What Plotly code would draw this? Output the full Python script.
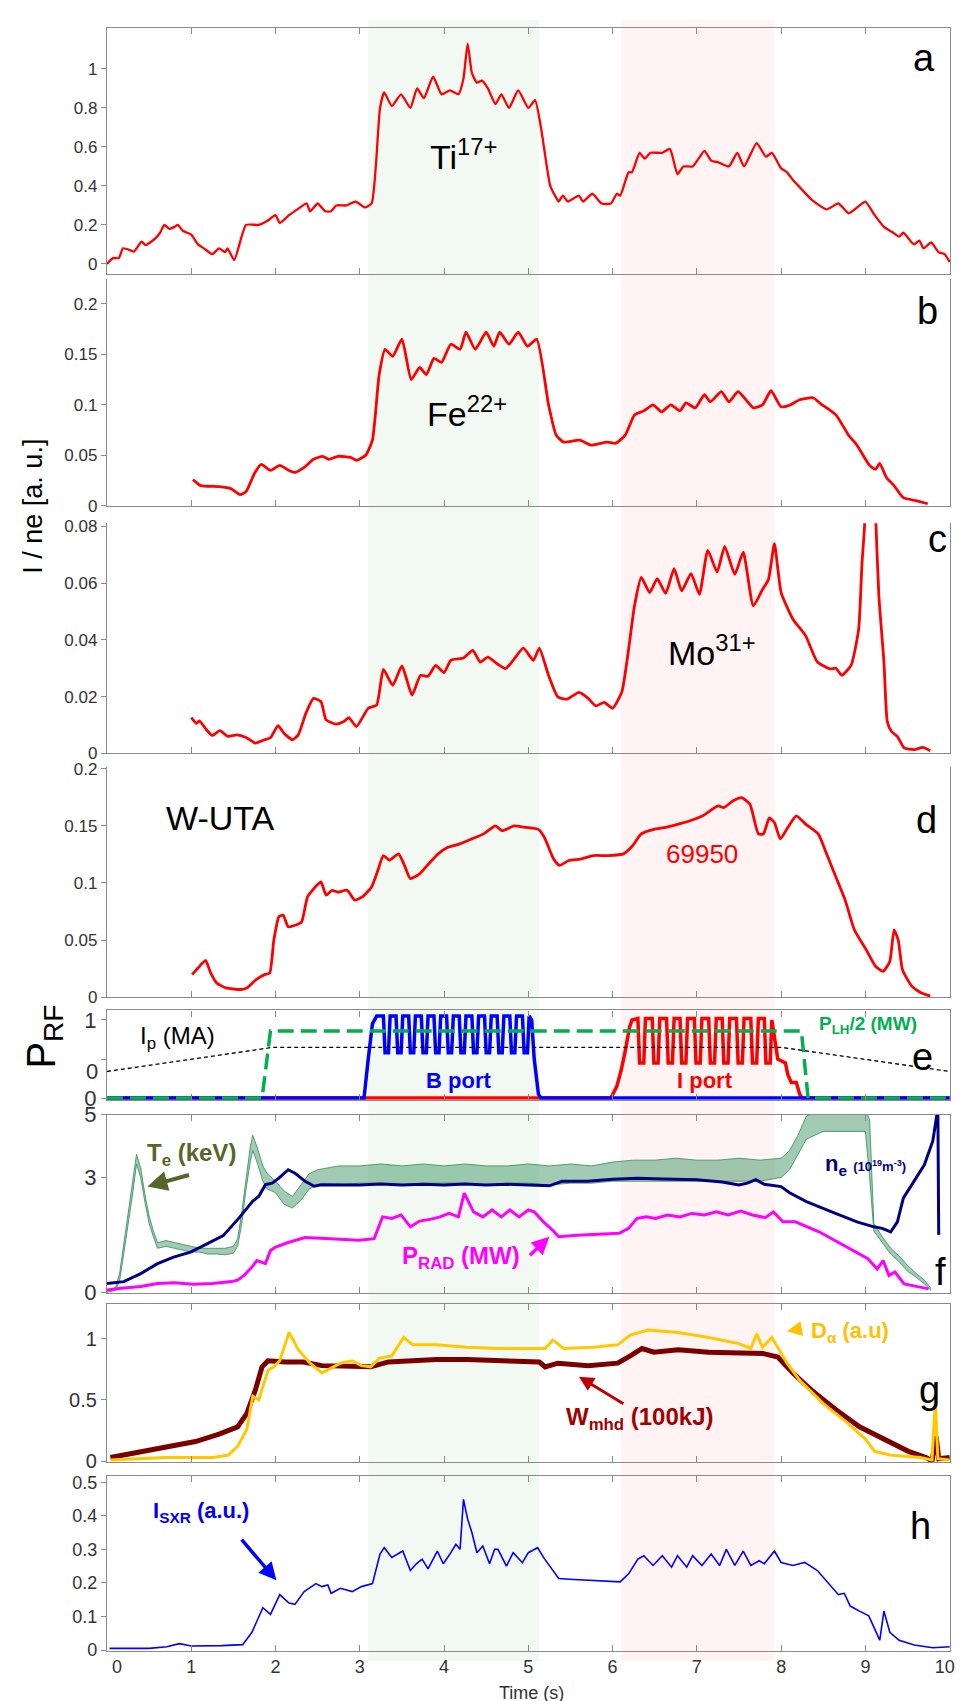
import plotly.graph_objects as go

# ---------------- data (time in s, value on each panel's axis) ----------------
ti17 = [(0.0,0.0),(0.07,0.03),(0.14,0.03),(0.19,0.08),(0.28,0.07),(0.32,0.063),(0.41,0.114),(0.46,0.097),
        (0.57,0.13),(0.63,0.16),(0.68,0.2),(0.74,0.18),(0.8,0.19),(0.84,0.2),(0.9,0.17),(1.0,0.15),(1.08,0.1),
        (1.15,0.08),(1.25,0.05),(1.33,0.08),(1.4,0.06),(1.43,0.08),(1.51,0.02),(1.65,0.2),(1.8,0.2),(1.9,0.22),
        (2.0,0.25),(2.05,0.21),(2.16,0.25),(2.26,0.28),(2.37,0.31),(2.41,0.27),(2.5,0.31),(2.59,0.27),(2.66,0.27),
        (2.72,0.3),(2.84,0.3),(2.95,0.32),(3.06,0.29),(3.14,0.31),(3.19,0.5),(3.24,0.8),(3.29,0.88),(3.38,0.81),
        (3.49,0.87),(3.6,0.8),(3.68,0.9),(3.76,0.85),(3.87,0.96),(3.97,0.87),(4.07,0.89),(4.17,0.87),(4.23,0.95),
        (4.28,1.13),(4.33,0.98),(4.39,0.93),(4.45,0.94),(4.52,0.9),(4.61,0.82),(4.68,0.87),(4.77,0.8),(4.88,0.89),
        (5.0,0.8),(5.08,0.84),(5.15,0.7),(5.26,0.4),(5.33,0.34),(5.36,0.32),(5.41,0.35),(5.47,0.32),(5.6,0.35),
        (5.65,0.32),(5.76,0.36),(5.87,0.31),(5.98,0.31),(6.05,0.36),(6.09,0.35),(6.19,0.47),(6.23,0.47),(6.32,0.57),
        (6.38,0.54),(6.45,0.57),(6.59,0.57),(6.68,0.59),(6.77,0.46),(6.84,0.5),(6.95,0.5),(7.02,0.54),(7.09,0.58),
        (7.17,0.53),(7.26,0.52),(7.38,0.5),(7.48,0.57),(7.56,0.5),(7.71,0.62),(7.82,0.55),(7.89,0.57),(8.0,0.49),
        (8.07,0.47),(8.14,0.43),(8.25,0.38),(8.36,0.33),(8.54,0.28),(8.68,0.31),(8.8,0.26),(8.93,0.3),(9.0,0.32),
        (9.11,0.25),(9.22,0.19),(9.33,0.16),(9.4,0.14),(9.45,0.16),(9.55,0.11),(9.58,0.1),(9.64,0.12),(9.69,0.08),
        (9.78,0.11),(9.87,0.06),(9.94,0.05),(10.0,0.01)]

fe22 = [(1.02,0.026),(1.11,0.02),(1.33,0.019),(1.47,0.017),(1.58,0.011),(1.65,0.014),(1.75,0.032),(1.83,0.041),
        (1.94,0.035),(2.05,0.04),(2.16,0.035),(2.23,0.033),(2.34,0.038),(2.45,0.046),(2.56,0.049),(2.63,0.046),
        (2.74,0.049),(2.89,0.048),(2.96,0.045),(3.07,0.05),(3.15,0.065),(3.23,0.13),(3.3,0.155),(3.39,0.148),
        (3.5,0.165),(3.61,0.125),(3.71,0.137),(3.79,0.13),(3.88,0.146),(3.97,0.142),(4.08,0.16),(4.19,0.155),
        (4.26,0.172),(4.37,0.155),(4.5,0.172),(4.59,0.158),(4.66,0.172),(4.77,0.16),(4.88,0.172),(4.99,0.158),
        (5.1,0.165),(5.24,0.1),(5.33,0.07),(5.42,0.063),(5.61,0.065),(5.75,0.06),(5.93,0.063),(6.04,0.062),
        (6.15,0.07),(6.26,0.09),(6.37,0.094),(6.48,0.1),(6.58,0.093),(6.69,0.1),(6.8,0.094),(6.87,0.102),
        (6.98,0.097),(7.09,0.11),(7.16,0.103),(7.29,0.113),(7.38,0.103),(7.49,0.113),(7.67,0.097),(7.78,0.1),
        (7.88,0.114),(8.0,0.098),(8.11,0.1),(8.22,0.105),(8.38,0.107),(8.47,0.101),(8.65,0.09),(8.8,0.07),
        (8.9,0.06),(9.05,0.04),(9.12,0.036),(9.17,0.042),(9.25,0.028),(9.34,0.02),(9.45,0.008),(9.6,0.005),
        (9.74,0.002)]

mo31 = [(1.0,0.0126),(1.06,0.0106),(1.1,0.0114),(1.18,0.0083),(1.25,0.0063),(1.34,0.008),(1.43,0.006),
        (1.54,0.0065),(1.65,0.0056),(1.76,0.0036),(1.87,0.0048),(1.94,0.0055),(2.03,0.0098),(2.1,0.0071),
        (2.2,0.0048),(2.27,0.0065),(2.36,0.0141),(2.45,0.0194),(2.54,0.0182),(2.6,0.0118),(2.72,0.0103),
        (2.81,0.0112),(2.87,0.0126),(2.96,0.0094),(3.1,0.0159),(3.2,0.017),(3.28,0.0296),(3.39,0.024),
        (3.5,0.0308),(3.62,0.0205),(3.72,0.0275),(3.81,0.0272),(3.9,0.031),(4.0,0.0285),(4.08,0.0328),
        (4.23,0.0336),(4.34,0.0363),(4.43,0.0322),(4.52,0.0339),(4.63,0.0316),(4.73,0.0299),(4.82,0.0328),
        (4.94,0.0371),(5.06,0.0328),(5.13,0.0371),(5.24,0.0275),(5.35,0.0199),(5.46,0.0191),(5.6,0.0215),
        (5.71,0.0194),(5.8,0.0167),(5.9,0.018),(6.0,0.0159),(6.11,0.0217),(6.18,0.0345),(6.26,0.052),
        (6.34,0.062),(6.44,0.0567),(6.53,0.0616),(6.63,0.0564),(6.73,0.0651),(6.82,0.0573),(6.93,0.0634),
        (7.03,0.0561),(7.13,0.0716),(7.24,0.0639),(7.33,0.073),(7.45,0.0631),(7.55,0.0709),(7.67,0.052),
        (7.78,0.0578),(7.85,0.0613),(7.92,0.0739),(8.0,0.0567),(8.14,0.0473),(8.29,0.0415),(8.43,0.0322),
        (8.58,0.0298),(8.65,0.03),(8.72,0.0275),(8.83,0.031),(8.92,0.0438),(8.96,0.0672),(8.99,0.0802),
        (9.05,0.15),(9.12,0.085),(9.16,0.0555),(9.22,0.0322),(9.26,0.0112),(9.31,0.0077),(9.38,0.0059),
        (9.46,0.0019),(9.58,0.0013),(9.68,0.0021),(9.77,0.0009)]

w_uta = [(1.01,0.0197),(1.08,0.0255),(1.17,0.0322),(1.23,0.0212),(1.3,0.0125),(1.41,0.0081),(1.59,0.0067),
         (1.66,0.0081),(1.77,0.0154),(1.87,0.0197),(1.93,0.021),(1.98,0.05),(2.04,0.0704),(2.09,0.0719),
         (2.15,0.0617),(2.24,0.0632),(2.31,0.066),(2.38,0.0878),(2.49,0.098),(2.54,0.101),(2.6,0.0893),
         (2.67,0.0936),(2.74,0.092),(2.85,0.0936),(2.94,0.085),(3.03,0.0878),(3.14,0.0965),(3.21,0.11),
         (3.28,0.124),(3.35,0.12),(3.46,0.1255),(3.53,0.1154),(3.6,0.1038),(3.71,0.108),(3.82,0.117),
         (3.93,0.1255),(4.04,0.131),(4.18,0.134),(4.33,0.1386),(4.47,0.143),(4.61,0.15),(4.69,0.1458),
         (4.83,0.15),(4.97,0.1487),(5.12,0.147),(5.19,0.14),(5.3,0.121),(5.37,0.1154),(5.48,0.1197),
         (5.62,0.121),(5.77,0.124),(5.95,0.124),(6.13,0.1255),(6.24,0.1328),(6.34,0.143),(6.49,0.147),
         (6.63,0.1487),(6.78,0.1516),(6.92,0.1545),(7.07,0.1588),(7.25,0.1675),(7.32,0.166),(7.43,0.172),
         (7.53,0.1748),(7.63,0.169),(7.73,0.143),(7.79,0.143),(7.86,0.157),(7.92,0.153),(7.99,0.1386),
         (8.08,0.1487),(8.18,0.1588),(8.29,0.1516),(8.44,0.143),(8.54,0.1255),(8.65,0.1052),(8.76,0.085),
         (8.87,0.0588),(9.01,0.0414),(9.12,0.027),(9.21,0.0226),(9.29,0.0313),(9.34,0.0588),(9.39,0.05),
         (9.44,0.024),(9.55,0.0096),(9.66,0.0038),(9.77,0.0009)]

# panel e: RF power (B port, I port), LH power / 2 and plasma current, as drawn on the P_RF axis
b_port = [(0.0,0.0),(3.05,0.0),(3.1,0.5),(3.15,0.95),(3.2,1.05),
          (3.28,1.05),(3.3,0.58),(3.34,0.58),(3.36,1.05),(3.43,1.05),(3.45,0.58),(3.49,0.58),(3.51,1.05),
          (3.58,1.05),(3.6,0.58),(3.64,0.58),(3.66,1.05),(3.73,1.05),(3.75,0.58),(3.79,0.58),(3.81,1.05),
          (3.88,1.05),(3.9,0.58),(3.94,0.58),(3.96,1.05),(4.03,1.05),(4.05,0.58),(4.09,0.58),(4.11,1.05),
          (4.18,1.05),(4.2,0.58),(4.24,0.58),(4.26,1.05),(4.33,1.05),(4.35,0.58),(4.39,0.58),(4.41,1.05),
          (4.48,1.05),(4.5,0.58),(4.54,0.58),(4.56,1.05),(4.63,1.05),(4.65,0.58),(4.69,0.58),(4.71,1.05),
          (4.78,1.05),(4.8,0.58),(4.84,0.58),(4.86,1.05),(4.93,1.05),(4.95,0.58),(4.99,0.58),(5.01,1.05),
          (5.04,1.0),(5.07,0.5),(5.12,0.05),(5.15,0.0),(10.0,0.0)]
i_port = [(0.0,0.0),(5.98,0.0),(6.05,0.15),(6.1,0.35),(6.15,0.6),(6.2,0.9),(6.23,1.0),
          (6.3,1.02),(6.32,0.45),(6.37,0.45),(6.39,1.02),(6.47,1.02),(6.49,0.45),(6.54,0.45),(6.56,1.02),
          (6.64,1.02),(6.66,0.45),(6.71,0.45),(6.73,1.02),(6.8,1.02),(6.82,0.45),(6.87,0.45),(6.89,1.02),
          (6.97,1.02),(6.99,0.45),(7.04,0.45),(7.06,1.02),(7.14,1.02),(7.16,0.45),(7.21,0.45),(7.23,1.02),
          (7.3,1.02),(7.32,0.45),(7.37,0.45),(7.39,1.02),(7.47,1.02),(7.49,0.45),(7.54,0.45),(7.56,1.02),
          (7.64,1.02),(7.66,0.45),(7.71,0.45),(7.73,1.02),(7.8,1.02),(7.82,0.45),(7.87,0.45),(7.89,1.0),
          (7.93,0.7),(7.96,0.5),(8.05,0.45),(8.08,0.3),(8.12,0.2),(8.18,0.2),(8.22,0.05),(8.25,0.0),(10.0,0.0)]
p_lh_half = [(0.0,0.0),(1.84,0.0),(1.94,0.86),(8.24,0.86),(8.32,0.0),(10.0,0.0)]
ip_ma = [(0.0,0.34),(1.97,0.65),(8.0,0.65),(10.0,0.34)]

# panel f: Te (noisy band: low / high edge), ne, P_RAD
te_t  = [0.0,0.1,0.15,0.2,0.25,0.3,0.35,0.4,0.45,0.5,0.55,0.6,0.7,0.8,0.9,1.0,1.1,1.2,1.3,1.4,1.5,1.55,1.6,1.65,
         1.7,1.73,1.78,1.85,1.9,2.0,2.1,2.2,2.3,2.4,2.5,2.75,3.0,3.25,3.5,3.75,4.0,4.25,4.5,4.75,5.0,5.25,5.5,
         5.75,6.0,6.25,6.5,6.75,7.0,7.25,7.5,7.75,8.0,8.1,8.2,8.3,8.5,8.75,9.0,9.05,9.1,9.2,9.3,9.4,9.5,9.6,9.7,9.78]
te_lo = [0.0,0.05,0.3,1.0,1.8,2.5,3.35,3.0,2.35,1.8,1.45,1.15,1.2,1.15,1.1,1.05,1.05,1.0,1.0,0.98,1.02,1.2,1.8,2.7,
         3.4,3.7,3.4,2.9,2.7,2.6,2.3,2.2,2.4,2.7,2.8,2.8,2.85,2.85,2.8,2.85,2.85,2.85,2.8,2.85,2.85,2.8,2.85,
         2.85,2.9,2.9,2.9,2.9,2.9,2.9,2.9,2.9,3.0,3.2,3.6,4.0,4.2,4.2,4.2,3.0,1.6,1.3,1.0,0.8,0.55,0.4,0.22,0.05]
te_hi = [0.05,0.12,0.5,1.3,2.1,2.8,3.6,3.25,2.55,2.0,1.6,1.3,1.35,1.3,1.25,1.2,1.15,1.15,1.15,1.15,1.2,1.4,2.1,3.0,
         3.8,4.1,3.8,3.3,3.1,2.9,2.65,2.5,2.8,3.1,3.2,3.3,3.3,3.35,3.3,3.35,3.3,3.35,3.3,3.3,3.35,3.3,3.35,
         3.3,3.4,3.45,3.45,3.5,3.45,3.45,3.5,3.45,3.5,3.7,4.1,4.6,4.8,4.8,4.8,4.5,1.8,1.45,1.15,0.95,0.7,0.5,0.32,0.1]
ne = [(0.0,0.23),(0.2,0.28),(0.4,0.49),(0.6,0.75),(0.79,0.92),(0.99,1.05),(1.18,1.26),(1.38,1.48),(1.57,1.95),
      (1.73,2.38),(1.8,2.5),(1.88,2.81),(1.96,2.85),(2.04,2.98),(2.15,3.2),(2.23,3.11),(2.35,2.9),(2.46,2.77),
      (2.54,2.81),(2.75,2.8),(3.0,2.8),(3.25,2.83),(3.5,2.8),(3.75,2.82),(4.0,2.8),(4.25,2.83),(4.5,2.8),
      (4.75,2.82),(5.0,2.8),(5.25,2.78),(5.4,2.9),(5.7,2.9),(6.0,2.95),(6.3,2.98),(6.6,2.96),(7.0,2.94),
      (7.3,2.88),(7.5,2.8),(7.6,2.85),(7.7,2.94),(7.8,2.82),(8.0,2.76),(8.1,2.6),(8.3,2.37),(8.6,2.1),
      (8.9,1.84),(9.1,1.71),(9.2,1.67),(9.3,1.58),(9.38,1.84),(9.45,2.46),(9.6,2.98),(9.7,3.33),(9.8,3.95),
      (9.86,4.8),(9.87,1.5)]
p_rad = [(0.0,0.06),(0.14,0.1),(0.4,0.15),(0.6,0.23),(0.8,0.25),(1.02,0.21),(1.25,0.23),(1.48,0.28),(1.55,0.32),
         (1.63,0.45),(1.72,0.66),(1.78,0.83),(1.83,0.79),(1.88,0.75),(1.94,1.09),(2.0,1.18),(2.15,1.3),(2.35,1.43),
         (2.54,1.41),(2.63,1.4),(2.99,1.36),(3.17,1.4),(3.27,1.97),(3.38,1.93),(3.49,2.02),(3.6,1.71),(3.71,1.86),
         (3.85,1.91),(3.95,1.97),(4.06,2.06),(4.17,1.97),(4.24,2.59),(4.35,2.1),(4.46,1.97),(4.57,2.15),(4.68,1.97),
         (4.78,2.15),(4.89,1.97),(5.0,2.15),(5.07,2.1),(5.18,1.84),(5.29,1.62),(5.36,1.45),(5.58,1.49),(5.86,1.51),
         (6.08,1.54),(6.19,1.67),(6.29,1.93),(6.4,1.97),(6.51,1.93),(6.65,2.02),(6.8,1.97),(6.94,2.06),(7.09,2.02),
         (7.23,2.1),(7.37,2.02),(7.52,2.12),(7.66,2.02),(7.81,1.95),(7.91,2.1),(8.02,1.84),(8.17,1.84),(8.31,1.71),
         (8.45,1.58),(8.6,1.4),(8.74,1.23),(8.88,1.05),(9.03,0.88),(9.14,0.61),(9.21,0.83),(9.28,0.44),(9.35,0.53),
         (9.46,0.22),(9.6,0.16),(9.75,0.09)]

# panel g: W_mhd (100 kJ) and D_alpha (a.u.)
w_mhd = [(0.04,0.03),(0.33,0.07),(0.69,0.11),(1.05,0.16),(1.33,0.22),(1.55,0.28),(1.66,0.39),(1.76,0.58),
         (1.84,0.77),(1.91,0.82),(2.12,0.81),(2.33,0.81),(2.55,0.78),(2.91,0.77),(3.13,0.77),(3.34,0.81),
         (3.63,0.82),(3.91,0.83),(4.27,0.83),(4.63,0.82),(4.99,0.82),(5.13,0.81),(5.2,0.77),(5.35,0.8),
         (5.71,0.78),(6.06,0.8),(6.21,0.86),(6.35,0.92),(6.49,0.89),(6.78,0.91),(7.14,0.89),(7.5,0.88),
         (7.78,0.88),(7.96,0.85),(8.14,0.72),(8.36,0.58),(8.65,0.42),(8.93,0.28),(9.22,0.18),(9.51,0.08),
         (9.72,0.03),(9.79,0.0),(9.84,0.2),(9.87,0.02),(10.0,0.03)]
d_alpha = [(0.04,0.01),(0.69,0.03),(1.26,0.03),(1.44,0.05),(1.55,0.12),(1.66,0.26),(1.73,0.53),(1.8,0.5),
           (1.91,0.74),(1.98,0.77),(2.05,0.82),(2.16,1.05),(2.21,0.99),(2.27,0.91),(2.41,0.8),(2.55,0.72),
           (2.66,0.76),(2.77,0.8),(2.91,0.82),(3.02,0.78),(3.13,0.77),(3.23,0.84),(3.38,0.86),(3.52,1.01),
           (3.63,0.95),(3.91,0.95),(4.27,0.93),(4.63,0.92),(4.99,0.92),(5.2,0.92),(5.29,0.99),(5.42,0.92),
           (5.78,0.93),(6.06,0.95),(6.21,1.03),(6.42,1.07),(6.78,1.05),(7.14,1.01),(7.5,0.96),(7.64,0.92),
           (7.71,1.04),(7.78,0.93),(7.89,1.01),(7.96,0.93),(8.07,0.8),(8.22,0.66),(8.5,0.47),(8.79,0.31),
           (9.0,0.18),(9.11,0.08),(9.29,0.05),(9.65,0.03),(9.79,0.01),(9.83,0.49),(9.86,0.02),(10.0,0.01)]

# panel h: soft X-ray intensity
i_sxr = [(0.03,0.005),(0.5,0.005),(0.71,0.01),(0.86,0.019),(1.0,0.012),(1.36,0.013),(1.61,0.016),(1.72,0.053),
         (1.85,0.126),(1.94,0.106),(2.05,0.165),(2.16,0.14),(2.23,0.136),(2.34,0.174),(2.48,0.198),(2.55,0.189),
         (2.62,0.194),(2.66,0.169),(2.77,0.184),(2.84,0.179),(2.91,0.174),(3.02,0.189),(3.15,0.198),(3.24,0.286),
         (3.29,0.305),(3.38,0.276),(3.51,0.295),(3.6,0.237),(3.67,0.257),(3.74,0.271),(3.81,0.242),(3.92,0.295),
         (3.99,0.257),(4.07,0.286),(4.14,0.315),(4.19,0.3),(4.23,0.449),(4.28,0.39),(4.33,0.35),(4.39,0.29),
         (4.46,0.31),(4.54,0.257),(4.6,0.3),(4.64,0.3),(4.74,0.25),(4.82,0.29),(4.93,0.26),(5.0,0.29),(5.11,0.305),
         (5.18,0.276),(5.29,0.237),(5.36,0.213),(5.54,0.21),(5.76,0.208),(5.98,0.206),(6.09,0.203),(6.19,0.227),
         (6.3,0.271),(6.37,0.281),(6.48,0.252),(6.59,0.281),(6.7,0.247),(6.77,0.281),(6.88,0.247),(6.95,0.281),
         (7.06,0.252),(7.17,0.286),(7.27,0.252),(7.35,0.3),(7.45,0.252),(7.55,0.295),(7.64,0.252),(7.74,0.266),
         (7.8,0.257),(7.92,0.295),(8.0,0.261),(8.14,0.252),(8.21,0.257),(8.28,0.261),(8.43,0.237),(8.57,0.198),
         (8.68,0.165),(8.75,0.169),(8.82,0.131),(8.93,0.116),(9.04,0.102),(9.11,0.063),(9.17,0.029),(9.22,0.116),
         (9.29,0.053),(9.4,0.029),(9.58,0.015),(9.8,0.007),(10.0,0.01)]

# heating windows (s)
lhw_window = [3.1, 5.13]
icrf_window = [6.1, 7.92]

# tick labels
ticks_a = [0, 0.2, 0.4, 0.6, 0.8, 1]
ticks_b = [0, 0.05, 0.1, 0.15, 0.2]
ticks_c = [0, 0.02, 0.04, 0.06, 0.08]
ticks_d = [0, 0.05, 0.1, 0.15, 0.2]
ticks_h = [0, 0.1, 0.2, 0.3, 0.4, 0.5]
ticks_time = [0, 1, 2, 3, 4, 5, 6, 7, 8, 9, 10]
NB = "\u00a0"
time_labels = [NB * 4 + "0", "1", "2", "3", "4", "5", "6", "7", "8", "9", "10" + NB * 2]

# ---------------- layout geometry ----------------
W, H = 965, 1701
ML, MR, MT, MB = 99, 9, 8, 58
PH = H - MT - MB
PW = W - ML - MR


def pf(px):
    return (H - MB - px) / PH


def px_x(px):
    return (px - ML) / PW


panel_px = [(8, 256), (261, 489.3), (507, 738.7), (752, 984.3), (997.7, 1087.7),
            (1102.7, 1282.7), (1293, 1453), (1466.7, 1642.7)]
yranges = [[-0.0525, 1.21], [0, 0.2245], [0, 0.0811], [0, 0.202], [-0.0216, 1.122],
           [-0.026, 4.637], [-0.0105, 1.287], [-0.002, 0.5186]]

NARROW = "Liberation Sans Narrow, Arial Narrow, Liberation Sans, Arial, sans-serif"
SANS = "Liberation Sans, Arial, sans-serif"
AXC = "#8a8a8a"

fig = go.Figure()


def ax_names(k):
    return ("x" if k == 1 else f"x{k}"), ("y" if k == 1 else f"y{k}")


def add_line(pairs, k, color, width, dash=None, smooth=False):
    xa, ya = ax_names(k)
    line = dict(color=color, width=width, dash=dash)
    if smooth:
        line.update(shape="spline", smoothing=0.5)
    fig.add_trace(go.Scatter(x=[p[0] for p in pairs], y=[p[1] for p in pairs], mode="lines",
                             line=line, xaxis=xa, yaxis=ya, showlegend=False, hoverinfo="skip"))


add_line(ti17, 1, "#FF0000", 2.3, smooth=True)
add_line(fe22, 2, "#FF0000", 2.8, smooth=True)
add_line(mo31, 3, "#FF0000", 2.8, smooth=True)
add_line(w_uta, 4, "#FF0000", 2.8, smooth=True)

add_line(i_port, 5, "#FF0000", 3.5)
add_line(b_port, 5, "#0000FF", 3.5)
add_line(p_lh_half, 5, "#00B050", 3.5, dash="16px,7px")
add_line(ip_ma, 5, "#000000", 1.3, dash="4px,3px")

# Te band
fig.add_trace(go.Scatter(x=te_t, y=te_lo, mode="lines", line=dict(color="#2E8B57", width=0.8),
                         xaxis="x6", yaxis="y6", showlegend=False, hoverinfo="skip"))
fig.add_trace(go.Scatter(x=te_t, y=te_hi, mode="lines", line=dict(color="#2E8B57", width=0.8),
                         fill="tonexty", fillcolor="rgba(46,139,87,0.45)",
                         xaxis="x6", yaxis="y6", showlegend=False, hoverinfo="skip"))
add_line(ne, 6, "#000080", 3)
add_line(p_rad, 6, "#FF00FF", 3)

add_line(w_mhd, 7, "#7A0000", 5)
add_line(d_alpha, 7, "#FFC800", 3)

add_line(i_sxr, 8, "#0000FF", 1.6)

# ---------------- axes ----------------
ytick_cfg = {
    1: dict(tickvals=ticks_a, ticktext=[str(v) for v in ticks_a], size=17),
    2: dict(tickvals=ticks_b, ticktext=[str(v) for v in ticks_b], size=17),
    3: dict(tickvals=ticks_c, ticktext=[str(v) for v in ticks_c], size=17),
    4: dict(tickvals=ticks_d, ticktext=[str(v) for v in ticks_d], size=17),
    5: dict(tickvals=[0, 0.5, 1], ticktext=["0", "", "1"], size=22),
    6: dict(tickvals=[0, 3, yranges[5][1]], ticktext=["0", "3", "5"], size=22),
    7: dict(tickvals=[0, 0.5, 1], ticktext=["0", "0.5", "1"], size=20),
    8: dict(tickvals=ticks_h, ticktext=[str(v) for v in ticks_h], size=18),
}

for k in range(1, 9):
    top, bot = panel_px[k - 1]
    xk = "xaxis" if k == 1 else f"xaxis{k}"
    yk = "yaxis" if k == 1 else f"yaxis{k}"
    xa, ya = ax_names(k)
    xmirror = False if k in (2, 3, 4) else "ticks"
    fig.layout[xk] = dict(domain=[0, 1], anchor=ya, range=[0, 10.004], tickmode="array",
                          tickvals=ticks_time, ticktext=time_labels,
                          ticks="inside", ticklen=6, tickcolor=AXC, showline=True, linecolor=AXC,
                          linewidth=1.3, mirror=xmirror, showgrid=False, zeroline=False,
                          ticklabeloverflow="allow",
                          showticklabels=(k == 8), tickfont=dict(family=NARROW, size=18, color="#333"))
    cfg = ytick_cfg[k]
    fig.layout[yk] = dict(domain=[pf(bot), pf(top)], anchor=xa, range=yranges[k - 1],
                          tickmode="array", tickvals=cfg["tickvals"], ticktext=cfg["ticktext"],
                          ticks="outside", ticklen=5, tickcolor=AXC, showline=True, linecolor=AXC,
                          linewidth=1.3, mirror=True, showgrid=False, zeroline=False,
                          tickfont=dict(family=NARROW, size=cfg["size"], color="#333"))

# ---------------- shaded heating windows ----------------
for (x0, x1), col in ((lhw_window, "#F2F9F3"), (icrf_window, "#FFF3F3")):
    fig.add_shape(type="rect", xref="x8", yref="paper", x0=x0, x1=x1, y0=pf(1653), y1=pf(0),
                  fillcolor=col, line=dict(width=0), layer="below")

# ---------------- annotations ----------------
anns = []


def txt(k, x, y, text, size, color="#000", family=NARROW, xanchor="center"):
    xa, ya = ax_names(k)
    anns.append(dict(xref=xa, yref=ya, x=x, y=y, text=text, showarrow=False, xanchor=xanchor,
                     yanchor="middle", font=dict(family=family, size=size, color=color)))


def arrow(k, x, y, ax, ay, color, width=3):
    xa, ya = ax_names(k)
    anns.append(dict(xref=xa, yref=ya, x=x, y=y, text="", showarrow=True, ax=ax, ay=ay,
                     arrowhead=2, arrowsize=1, arrowwidth=width, arrowcolor=color, standoff=0))


# panel letters
for k, x, y, s in ((1, 9.7, 1.058, "a"), (2, 9.74, 0.193, "b"), (3, 9.85, 0.0755, "c"),
                   (4, 9.73, 0.155, "d"), (5, 9.68, 0.52, "e"), (6, 9.89, 0.52, "f"),
                   (7, 9.76, 0.58, "g"), (8, 9.65, 0.37, "h")):
    txt(k, x, y, s, 38)

txt(1, 4.23, 0.56, "Ti<sup>17+</sup>", 34)
txt(2, 4.27, 0.093, "Fe<sup>22+</sup>", 34)
txt(3, 7.18, 0.0363, "Mo<sup>31+</sup>", 34)
txt(4, 1.35, 0.157, "W-UTA", 34)
txt(4, 7.06, 0.1255, "69950", 26, "#FF0000")

txt(5, 0.84, 0.775, "I<sub>p</sub> (MA)", 24, "#000", SANS)
txt(5, 4.17, 0.225, "<b>B port</b>", 22, "#0000FF", SANS)
txt(5, 7.1, 0.225, "<b>I port</b>", 22, "#FF0000", SANS)
txt(5, 9.03, 0.94, "<b>P<sub>LH</sub>/2 (MW)</b>", 19, "#00B050", SANS)
anns.append(dict(xref="paper", yref="y5", x=0, y=0.34, xanchor="right", yanchor="middle", xshift=-7,
                 text="0", showarrow=False, font=dict(family=NARROW, size=22, color="#333")))

txt(6, 1.0, 3.59, "<b>T<sub>e</sub> (keV)</b>", 24, "#55662A", SANS)
arrow(6, 0.48, 2.76, 43, -12, "#55662A", 4)
txt(6, 9.0, 3.33, "<b>n<sub>e</sub> <span style='font-size:13px'>(10<sup>19</sup>m<sup>-3</sup>)</span></b>",
    22, "#000080", SANS)
txt(6, 4.2, 0.9, "<b>P<sub>RAD</sub> (MW)</b>", 24, "#FF00FF", SANS)
arrow(6, 5.25, 1.45, -21, 20, "#FF00FF", 3.5)

txt(7, 8.82, 1.054, "<b>D<sub>α</sub> (a.u)</b>", 22, "#FFC000", SANS)
arrow(7, 8.07, 1.06, 16, -3, "#FFC000", 3)
txt(7, 6.32, 0.35, "<b>W<sub>mhd</sub> (100kJ)</b>", 24, "#A00000", SANS)
arrow(7, 5.6, 0.69, 46, 28, "#C00000", 3)

txt(8, 1.12, 0.41, "<b>I<sub>SXR</sub> (a.u.)</b>", 22, "#0000FF", SANS)
arrow(8, 2.01, 0.208, -36, -42, "#0000FF", 3.5)

# axis-like labels
anns.append(dict(xref="paper", yref="paper", x=px_x(24), y=pf(490), xanchor="center", yanchor="middle",
                 text="I / ne [a. u.]", textangle=-90, showarrow=False,
                 font=dict(family=SANS, size=27, color="#000")))
anns.append(dict(xref="paper", yref="paper", x=px_x(34), y=pf(1024), xanchor="center", yanchor="middle",
                 text="P<sub>RF</sub>", textangle=-90, showarrow=False,
                 font=dict(family=SANS, size=40, color="#000")))
anns.append(dict(xref="paper", yref="paper", x=px_x(531), y=pf(1685), xanchor="center", yanchor="middle",
                 text="Time (s)", showarrow=False, font=dict(family=NARROW, size=18, color="#333")))

fig.update_layout(width=W, height=H, autosize=False,
                  margin=dict(l=ML, r=MR, t=MT, b=MB),
                  paper_bgcolor="white", plot_bgcolor="rgba(0,0,0,0)",
                  annotations=anns, showlegend=False)

fig.write_html("out.html")
